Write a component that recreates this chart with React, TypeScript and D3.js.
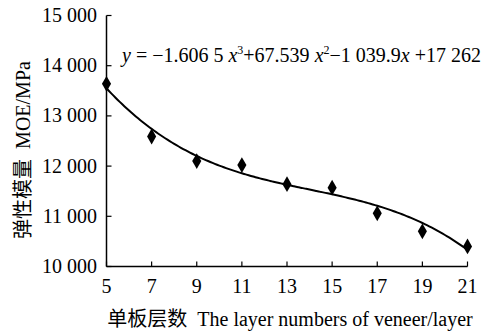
import React from "react";
import * as d3 from "d3";

const layers = [5, 7, 9, 11, 13, 15, 17, 19, 21];
const moe = [13640, 12590, 12100, 12020, 11640, 11570, 11060, 10700, 10400];
const xTicks = [5, 7, 9, 11, 13, 15, 17, 19, 21];
const yTicks = [10000, 11000, 12000, 13000, 14000, 15000];
// trend coefficients: a3, a2, a1, a0
const coef = [-1.6065, 67.539, -1039.9, 17262];

const W = 490;
const H = 333;
const serif = "'Liberation Serif', 'DejaVu Serif', serif";
const cjk = "'Noto Sans CJK SC', sans-serif";

export default function App() {
  const x = d3.scaleLinear().domain([5, 21]).range([106.5, 467.5]);
  const y = d3.scaleLinear().domain([10000, 15000]).range([266.5, 15.5]);
  const fmt = (v: number) => {
    const s = String(v);
    return s.slice(0, s.length - 3) + " " + s.slice(-3);
  };
  const trendX = d3.range(5, 21.001, 0.1);
  const poly = (t: number) => coef[0] * t ** 3 + coef[1] * t ** 2 + coef[2] * t + coef[3];
  const line = d3
    .line<number>()
    .x((t) => x(t))
    .y((t) => y(poly(t)))
    .curve(d3.curveMonotoneX);
  const diamond = d3.symbol(d3.symbolDiamond, 72)();
  return (
    <svg width={W} height={H} style={{ position: "absolute", left: 0, top: 0, background: "#fff" }}>
      <rect width={W} height={H} fill="#fff" />
      {/* axes */}
      <line x1={x(5)} x2={x(5)} y1={y(15000)} y2={y(10000)} stroke="#000" strokeWidth={1.5} />
      <line x1={x(5)} x2={x(21)} y1={y(10000)} y2={y(10000)} stroke="#000" strokeWidth={1.5} />
      {yTicks.map((v) => (
        <g key={v}>
          <line x1={x(5)} x2={x(5) + 5} y1={y(v)} y2={y(v)} stroke="#000" strokeWidth={1.2} />
          <text x={97} y={y(v) + 6.5} textAnchor="end" fontFamily={serif} fontSize={20}>
            {fmt(v)}
          </text>
        </g>
      ))}
      {xTicks.map((v) => (
        <g key={v}>
          <line x1={x(v)} x2={x(v)} y1={y(10000)} y2={y(10000) - 5} stroke="#000" strokeWidth={1.2} />
          <text x={x(v)} y={293} textAnchor="middle" fontFamily={serif} fontSize={20}>
            {v}
          </text>
        </g>
      ))}
      <path d={line(trendX) || ""} fill="none" stroke="#000" strokeWidth={2} />
      {layers.map((l, i) => (
        <path key={l} d={diamond || ""} transform={`translate(${x(l)},${y(moe[i])})`} fill="#000" />
      ))}
      <text x={122} y={62} fontFamily={serif} fontSize={20}>
        <tspan fontStyle="italic">y</tspan>
        <tspan> = −1.606 5 </tspan>
        <tspan fontStyle="italic">x</tspan>
        <tspan fontSize={12} dy={-8}>3</tspan>
        <tspan dy={8}>+67.539 </tspan>
        <tspan fontStyle="italic">x</tspan>
        <tspan fontSize={12} dy={-8}>2</tspan>
        <tspan dy={8}>−1 039.9</tspan>
        <tspan fontStyle="italic">x</tspan>
        <tspan> +17 262</tspan>
      </text>
      <text x={290} y={326} textAnchor="middle" fontSize={20} xmlSpace="preserve">
        <tspan fontFamily={cjk}>单板层数</tspan>
        <tspan fontFamily={serif}>{"  The layer numbers of veneer/layer"}</tspan>
      </text>
      <text transform="translate(30,150) rotate(-90)" textAnchor="middle" fontSize={20} xmlSpace="preserve">
        <tspan fontFamily={cjk}>弹性模量</tspan>
        <tspan fontFamily={serif}>{"  MOE/MPa"}</tspan>
      </text>
    </svg>
  );
}
